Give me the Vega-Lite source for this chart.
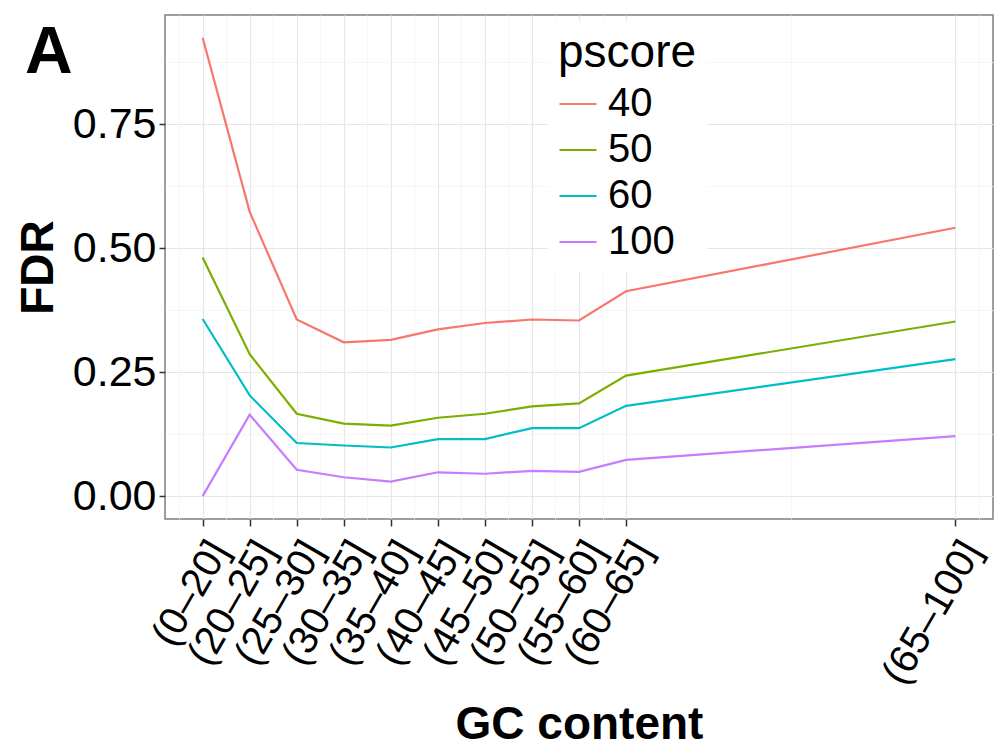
{
  "$schema": "https://vega.github.io/schema/vega-lite/v6.json",
  "width": 828,
  "height": 504,
  "autosize": {"type": "none"},
  "padding": {"left": 165, "top": 15, "right": 2, "bottom": 234},
  "title": {
    "text": "A",
    "anchor": "start",
    "frame": "group",
    "orient": "top",
    "offset": 0,
    "dx": -140,
    "dy": 124,
    "baseline": "alphabetic",
    "fontSize": 66,
    "fontWeight": "bold",
    "color": "black"
  },
  "data": {
    "values": [
      {"gc": 20, "pscore": "40", "fdr": 0.924},
      {"gc": 25, "pscore": "40", "fdr": 0.573},
      {"gc": 30, "pscore": "40", "fdr": 0.356},
      {"gc": 35, "pscore": "40", "fdr": 0.310},
      {"gc": 40, "pscore": "40", "fdr": 0.315},
      {"gc": 45, "pscore": "40", "fdr": 0.336},
      {"gc": 50, "pscore": "40", "fdr": 0.349},
      {"gc": 55, "pscore": "40", "fdr": 0.356},
      {"gc": 60, "pscore": "40", "fdr": 0.354},
      {"gc": 65, "pscore": "40", "fdr": 0.413},
      {"gc": 100, "pscore": "40", "fdr": 0.541},
      {"gc": 20, "pscore": "50", "fdr": 0.481},
      {"gc": 25, "pscore": "50", "fdr": 0.286},
      {"gc": 30, "pscore": "50", "fdr": 0.166},
      {"gc": 35, "pscore": "50", "fdr": 0.146},
      {"gc": 40, "pscore": "50", "fdr": 0.142},
      {"gc": 45, "pscore": "50", "fdr": 0.158},
      {"gc": 50, "pscore": "50", "fdr": 0.166},
      {"gc": 55, "pscore": "50", "fdr": 0.181},
      {"gc": 60, "pscore": "50", "fdr": 0.187},
      {"gc": 65, "pscore": "50", "fdr": 0.243},
      {"gc": 100, "pscore": "50", "fdr": 0.352},
      {"gc": 20, "pscore": "60", "fdr": 0.357},
      {"gc": 25, "pscore": "60", "fdr": 0.203},
      {"gc": 30, "pscore": "60", "fdr": 0.107},
      {"gc": 35, "pscore": "60", "fdr": 0.102},
      {"gc": 40, "pscore": "60", "fdr": 0.098},
      {"gc": 45, "pscore": "60", "fdr": 0.115},
      {"gc": 50, "pscore": "60", "fdr": 0.115},
      {"gc": 55, "pscore": "60", "fdr": 0.137},
      {"gc": 60, "pscore": "60", "fdr": 0.137},
      {"gc": 65, "pscore": "60", "fdr": 0.182},
      {"gc": 100, "pscore": "60", "fdr": 0.276},
      {"gc": 20, "pscore": "100", "fdr": 0.0},
      {"gc": 25, "pscore": "100", "fdr": 0.164},
      {"gc": 30, "pscore": "100", "fdr": 0.053},
      {"gc": 35, "pscore": "100", "fdr": 0.038},
      {"gc": 40, "pscore": "100", "fdr": 0.029},
      {"gc": 45, "pscore": "100", "fdr": 0.048},
      {"gc": 50, "pscore": "100", "fdr": 0.045},
      {"gc": 55, "pscore": "100", "fdr": 0.051},
      {"gc": 60, "pscore": "100", "fdr": 0.049},
      {"gc": 65, "pscore": "100", "fdr": 0.073},
      {"gc": 100, "pscore": "100", "fdr": 0.121}
    ]
  },
  "mark": {"type": "line", "strokeWidth": 2.2},
  "encoding": {
    "x": {
      "field": "gc",
      "type": "quantitative",
      "scale": {"domain": [16, 104], "nice": false, "zero": false},
      "axis": {
        "title": "GC content",
        "values": [17.5, 20, 22.5, 25, 27.5, 30, 32.5, 35, 37.5, 40, 42.5, 45, 47.5, 50, 52.5, 55, 57.5, 60, 62.5, 65, 82.5, 100, 102.5],
        "labelExpr": "datum.value == 20 ? '(0–20]' : datum.value == 100 ? '(65–100]' : (datum.value % 5 == 0 ? '(' + (datum.value - 5) + '–' + datum.value + ']' : '')",
        "labelAngle": -60,
        "labelAlign": "right",
        "labelBaseline": "top",
        "labelOffset": -1,
        "labelPadding": 8,
        "labelFontSize": 40,
        "labelOverlap": false,
        "labelBound": false,
        "labelFlush": false,
        "tickSize": 7,
        "tickOpacity": {"condition": {"test": "datum.value % 5 == 0", "value": 1}, "value": 0},
        "gridColor": {"condition": {"test": "datum.value % 5 == 0", "value": "#e6e6e6"}, "value": "#f3f3f3"},
        "gridWidth": {"condition": {"test": "datum.value % 5 == 0", "value": 1.2}, "value": 0.8},
        "titleFontSize": 46,
        "titlePadding": 12
      }
    },
    "y": {
      "field": "fdr",
      "type": "quantitative",
      "scale": {"domain": [-0.0462, 0.97], "nice": false, "zero": false},
      "axis": {
        "title": "FDR",
        "values": [0, 0.125, 0.25, 0.375, 0.5, 0.625, 0.75, 0.875],
        "labelExpr": "(datum.value * 4) % 1 == 0 ? format(datum.value, '.2f') : ''",
        "labelFontSize": 43,
        "labelPadding": 3,
        "labelOverlap": false,
        "tickSize": 6,
        "tickOpacity": {"condition": {"test": "(datum.value * 4) % 1 == 0", "value": 1}, "value": 0},
        "gridColor": {"condition": {"test": "(datum.value * 4) % 1 == 0", "value": "#e6e6e6"}, "value": "#f3f3f3"},
        "gridWidth": {"condition": {"test": "(datum.value * 4) % 1 == 0", "value": 1.2}, "value": 0.8},
        "titleFontSize": 46,
        "titlePadding": 10
      }
    },
    "color": {
      "field": "pscore",
      "type": "nominal",
      "sort": ["40", "50", "60", "100"],
      "scale": {"domain": ["40", "50", "60", "100"], "range": ["#F8766D", "#7CAE00", "#00BFC4", "#C77CFF"]},
      "legend": {
        "orient": "none",
        "legendX": 383,
        "legendY": 6,
        "title": "pscore",
        "titleFontSize": 46,
        "titleFontWeight": "normal",
        "titleColor": "black",
        "titlePadding": 7,
        "labelFontSize": 40,
        "labelColor": "black",
        "labelOffset": 10,
        "symbolType": "stroke",
        "symbolSize": 1369,
        "symbolStrokeWidth": 2.2,
        "rowPadding": 6,
        "fillColor": "white",
        "padding": 10
      }
    }
  },
  "config": {
    "font": "Liberation Sans",
    "view": {"stroke": "#7f7f7f", "strokeWidth": 1.5},
    "axis": {
      "domain": false,
      "grid": true,
      "labelColor": "black",
      "tickColor": "#333333",
      "tickWidth": 1.5,
      "titleColor": "black",
      "titleFontWeight": "bold"
    }
  }
}
